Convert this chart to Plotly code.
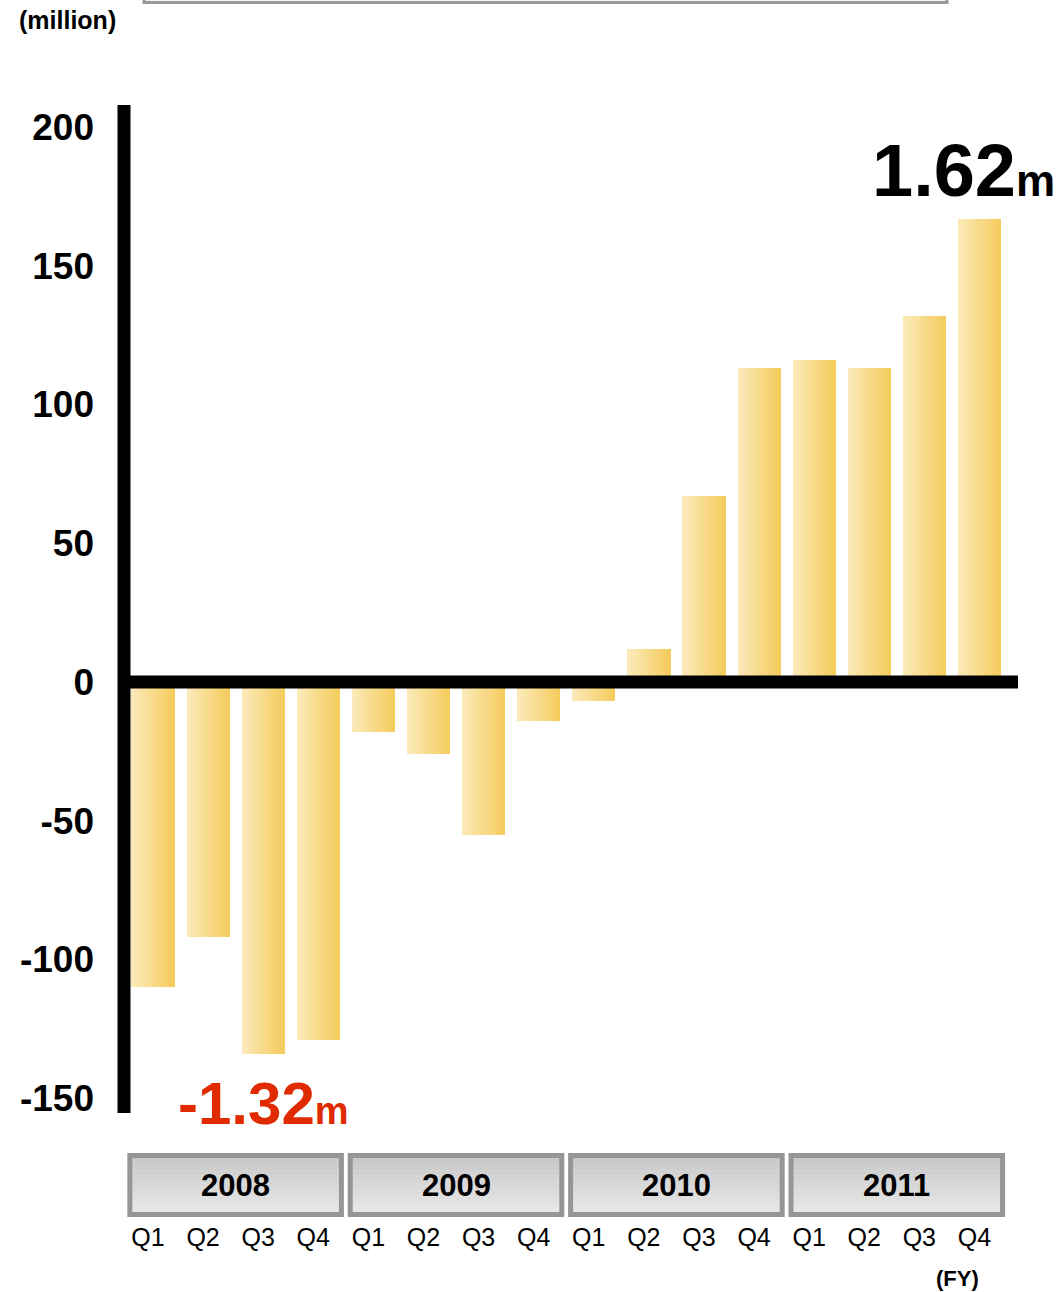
import plotly.graph_objects as go

# ---------------- data ----------------
years = ["2008", "2009", "2010", "2011"]
quarters = ["Q1", "Q2", "Q3", "Q4"]
values = [-110, -92, -134, -129,
          -18, -26, -55, -14,
          -7, 12, 67, 113,
          116, 113, 132, 167]
ytick_vals = [200, 150, 100, 50, 0, -50, -100, -150]
ytick_text = ["200", "150", "100", "50", "0", "-50", "-100", "-150"]
unit_label = "(million)"
fy_label = "(FY)"
high_label = "1.62"
low_label = "-1.32"

# ---------------- layout constants ----------------
W, H = 1059, 1292
ML, MR, MT, MB = 124, 41, 105, 179
XMIN, XMAX = -0.526, 15.70
YMIN, YMAX = -155.3, 207.9
PW = W - ML - MR
PH = H - MT - MB

def px_x(p):
    return (p - ML) / PW

def px_y(p):
    return (H - MB - p) / PH

def data_x_to_paper(v):
    return (v - XMIN) / (XMAX - XMIN)

xs = list(range(len(values)))
qlabels = [quarters[i % 4] for i in xs]

fig = go.Figure()

# gradient bars built from vertical slices
c_left = (251, 233, 184)
c_right = (245, 204, 94)
NS = 14
bw = 0.78
sw = bw / NS
for k in range(NS):
    t = k / (NS - 1)
    col = tuple(round(c_left[j] + (c_right[j] - c_left[j]) * t) for j in range(3))
    fig.add_trace(go.Bar(
        x=xs, y=values,
        width=sw * 1.08, offset=-bw / 2 + k * sw,
        marker=dict(color="rgb(%d,%d,%d)" % col, line=dict(width=0)),
        showlegend=False,
        hovertemplate="%{y}<extra></extra>",
    ))

shapes = []
# vertical axis
shapes.append(dict(type="line", xref="paper", yref="paper", x0=0, x1=0, y0=0, y1=1,
                   line=dict(color="black", width=13), layer="above"))
# zero line
shapes.append(dict(type="line", xref="paper", yref="y", x0=px_x(118), x1=1, y0=0, y1=0,
                   line=dict(color="black", width=13), layer="above"))
# top cut-off box
shapes.append(dict(type="rect", xref="paper", yref="paper", x0=px_x(144), x1=px_x(947),
                   y0=px_y(2.5), y1=px_y(-20), line=dict(color="#9a9a9a", width=3),
                   fillcolor="#f4f4f4", layer="above"))

# year boxes
annotations = []
box_top, box_bot = 1155.5, 1214.5
NSTR = 12
for gi, yr in enumerate(years):
    i0, i1 = gi * 4, gi * 4 + 3
    x0 = data_x_to_paper(i0 - 0.42)
    x1 = data_x_to_paper(i1 + 0.42)
    for s in range(NSTR):
        t = s / (NSTR - 1)
        g = round(200 + (232 - 200) * t)
        ya = box_top + (box_bot - box_top) * s / NSTR
        yb = box_top + (box_bot - box_top) * (s + 1) / NSTR
        shapes.append(dict(type="rect", xref="paper", yref="paper", x0=x0, x1=x1,
                           y0=px_y(ya), y1=px_y(yb + 0.6), line=dict(width=0),
                           fillcolor="rgb(%d,%d,%d)" % (g, g, g), layer="above"))
    shapes.append(dict(type="rect", xref="paper", yref="paper", x0=x0, x1=x1,
                       y0=px_y(box_top), y1=px_y(box_bot),
                       line=dict(color="#969696", width=5), layer="above"))
    annotations.append(dict(xref="paper", yref="paper", x=(x0 + x1) / 2, y=px_y(1185),
                            text="<b>%s</b>" % yr, showarrow=False,
                            font=dict(family="Liberation Sans, Arial", size=31, color="black"),
                            xanchor="center", yanchor="middle"))

annotations.append(dict(xref="paper", yref="paper", x=px_x(67), y=px_y(20),
                        text="<b>%s</b>" % unit_label, showarrow=False,
                        font=dict(family="Liberation Sans, Arial", size=25, color="black"),
                        xanchor="center", yanchor="middle"))
annotations.append(dict(xref="paper", yref="paper", x=px_x(957), y=px_y(1278),
                        text="<b>%s</b>" % fy_label, showarrow=False,
                        font=dict(family="Liberation Sans, Arial", size=22, color="black"),
                        xanchor="center", yanchor="middle"))
annotations.append(dict(xref="paper", yref="paper", x=px_x(1057), y=px_y(170),
                        text="<b>%s<span style='font-size:44px'>m</span></b>" % high_label,
                        showarrow=False,
                        font=dict(family="Liberation Sans, Arial", size=74, color="black"),
                        xanchor="right", yanchor="middle"))
annotations.append(dict(xref="paper", yref="paper", x=px_x(176), y=px_y(1103),
                        text="<b>%s<span style='font-size:38px'>m</span></b>" % low_label,
                        showarrow=False,
                        font=dict(family="Liberation Sans, Arial", size=60, color="#e02a00"),
                        xanchor="left", yanchor="middle"))

fig.update_layout(
    width=W, height=H,
    margin=dict(l=ML, r=MR, t=MT, b=MB, pad=0),
    paper_bgcolor="white", plot_bgcolor="white",
    barmode="overlay", bargap=0,
    shapes=shapes, annotations=annotations,
    showlegend=False,
)
fig.update_xaxes(
    range=[XMIN, XMAX], tickmode="array", tickvals=xs, ticktext=qlabels,
    showgrid=False, zeroline=False, showline=False, ticks="",
    tickfont=dict(family="Liberation Sans, Arial", size=25, color="black"),
    ticklabelstandoff=107, ticklabelshift=-5,
)
fig.update_yaxes(
    range=[YMIN, YMAX], tickmode="array", tickvals=ytick_vals, ticktext=ytick_text,
    showgrid=False, zeroline=False, showline=False, ticks="",
    tickfont=dict(family="Liberation Sans, Arial", size=37, color="black", weight="bold"),
    ticklabelstandoff=29,
)

fig.write_html("out.html",
               config={"displayModeBar": False},
               post_script="document.body.style.margin='0';document.body.style.overflow='hidden';")
